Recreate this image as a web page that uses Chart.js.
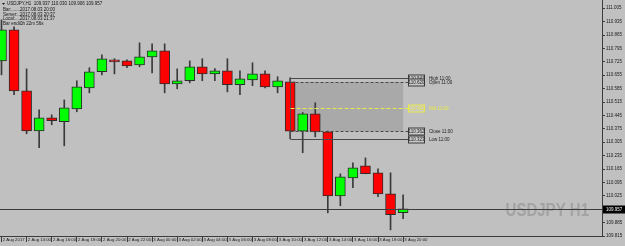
<!DOCTYPE html>
<html lang="en">
	<head>
		<meta charset="UTF-8" />
		<title>USDJPY H1</title>
		<script src="https://cdn.jsdelivr.net/npm/chart.js@4.4.0/dist/chart.umd.min.js"></script>
		<style>
			html,
			body {
				margin: 0;
				padding: 0;
				background: #c0c0c0;
			}
			canvas {
				display: block;
			}
		</style>
	</head>
	<body>
		<canvas id="chart" width="625" height="246"></canvas>

		<script>
			// hourly bars, 2 Aug 12:00 .. 3 Aug 20:00
			const open = [
				110.73, 110.892, 110.573, 110.364, 110.432, 110.412, 110.479, 110.589, 110.673, 110.735, 110.73,
				110.709, 110.751, 110.782, 110.61, 110.626, 110.699, 110.662, 110.678, 110.605, 110.631, 110.662,
				110.594, 110.62, 110.362, 110.453, 110.359, 110.025, 110.119, 110.182, 110.145, 110.035, 109.937,
			];
			const high = [
				110.944, 110.908, 110.688, 110.474, 110.448, 110.526, 110.626, 110.694, 110.762, 110.741, 110.735,
				110.824, 110.819, 110.819, 110.688, 110.73, 110.741, 110.69, 110.741, 110.678, 110.72, 110.678,
				110.647, 110.641, 110.46, 110.511, 110.364, 110.14, 110.197, 110.223, 110.166, 110.145, 110.03,
			];
			const low = [
				110.657, 110.553, 110.349, 110.276, 110.396, 110.286, 110.464, 110.563, 110.657, 110.662, 110.694,
				110.699, 110.667, 110.563, 110.584, 110.615, 110.626, 110.626, 110.568, 110.553, 110.6, 110.589,
				110.563, 110.323, 110.25, 110.333, 109.936, 109.973, 110.067, 110.14, 110.02, 109.847, 109.906,
			];
			const close = [
				110.892, 110.573, 110.364, 110.432, 110.417, 110.485, 110.594, 110.673, 110.741, 110.725, 110.704,
				110.751, 110.782, 110.61, 110.626, 110.699, 110.662, 110.678, 110.605, 110.636, 110.662, 110.594,
				110.626, 110.362, 110.453, 110.359, 110.025, 110.124, 110.171, 110.14, 110.035, 109.926, 109.957,
			];
			// one label every 2 bars
			const xLabels = [
				"2 Aug 2017", "2 Aug 14:00", "2 Aug 16:00", "2 Aug 18:00", "2 Aug 20:00", "2 Aug 22:00",
				"3 Aug 00:00", "3 Aug 02:00", "3 Aug 04:00", "3 Aug 06:00", "3 Aug 08:00", "3 Aug 10:00",
				"3 Aug 12:00", "3 Aug 14:00", "3 Aug 16:00", "3 Aug 18:00", "3 Aug 20:00",
			];
			const yTicks = [
				109.815, 109.885, 109.955, 110.025, 110.095, 110.165, 110.235, 110.305, 110.375, 110.445,
				110.515, 110.585, 110.655, 110.725, 110.795, 110.865, 110.935, 111.005,
			];
			const infoLines = [
				["Bar:.........", "2017.08.03 20:00"],
				["Server:.....", "2017.08.03 20:37"],
				["Local:.......", "2017.08.03 21:37"],
				["Bar endi...", "0h 22m 56s"],
			];
			const sessionBar = 23;
			const sessionName = "11:00";
			const lastBar = close.length - 1;

			const FONT = "'Liberation Sans', Arial, sans-serif";

			// 배경
			const chartBg = {
				id: "chartBg",
				beforeDraw(chart) {
					const c = chart.ctx;
					c.save();
					c.fillStyle = "#c0c0c0";
					c.fillRect(0, 0, chart.width, chart.height);
					c.restore();
				},
			};

			// 11:00 bar box (high/low, open/close, mid)
			const sessionBox = {
				id: "sessionBox",
				beforeDatasetsDraw(chart) {
					const { ctx: c, scales, chartArea } = chart;
					const x = scales.x,
						y = scales.y;
					const i = sessionBar;
					const x0 = x.getPixelForValue(i);
					const x1 = x.getPixelForValue(lastBar);
					c.save();
					// watermark
					c.fillStyle = "#a3a3a3";
					c.font = "bold 19px " + FONT;
					c.textAlign = "right";
					c.textBaseline = "alphabetic";
					c.translate(chartArea.right - 13, 216);
					c.scale(0.79, 1);
					c.fillText("USDJPY H1", 0, 0);
					c.restore();

					c.save();
					const yo = y.getPixelForValue(open[i]);
					const yc = y.getPixelForValue(close[i]);
					c.fillStyle = "#a9a9a9";
					c.fillRect(x0, yo, x1 - x0, yc - yo);
					c.restore();
				},
				afterDatasetsDraw(chart) {
					const { ctx: c, scales } = chart;
					const x = scales.x,
						y = scales.y;
					const i = sessionBar;
					const x0 = Math.round(x.getPixelForValue(i)) + 0.5;
					const lx = Math.round(x.getPixelForValue(lastBar)) + 5;
					const mid = (high[i] + low[i]) / 2;
					const py = (v) => Math.round(y.getPixelForValue(v)) + 0.5;

					c.save();
					c.lineWidth = 1;
					c.strokeStyle = "#4a4a4a";
					c.beginPath();
					c.moveTo(lx, py(high[i]));
					c.lineTo(x0, py(high[i]));
					c.lineTo(x0, py(low[i]));
					c.lineTo(lx, py(low[i]));
					c.stroke();

					c.setLineDash([3, 2]);
					[open[i], close[i]].forEach((v) => {
						c.beginPath();
						c.moveTo(x0, py(v));
						c.lineTo(lx, py(v));
						c.stroke();
					});
					c.strokeStyle = "#e8e84a";
					c.setLineDash([4, 2]);
					c.beginPath();
					c.moveTo(x0, py(mid));
					c.lineTo(lx, py(mid));
					c.stroke();
					c.setLineDash([]);

					const tags = [
						[high[i], "High", "#3a3a3a"],
						[open[i], "Open", "#3a3a3a"],
						[mid, "Mid", "#e8e84a"],
						[close[i], "Close", "#3a3a3a"],
						[low[i], "Low", "#3a3a3a"],
					];
					c.font = "4.5px " + FONT;
					c.textBaseline = "middle";
					tags.forEach(([v, name, col]) => {
						const ty = py(v);
						c.fillStyle = "#c8c8c8";
						c.fillRect(lx, ty - 3.5, 16, 7);
						c.strokeStyle = col;
						c.strokeRect(lx + 0.5, ty - 3.5, 16, 7);
						c.fillStyle = col === "#3a3a3a" ? "#202020" : col;
						c.textAlign = "center";
						c.fillText(v.toFixed(3), lx + 8.5, ty);
						c.textAlign = "left";
						c.fillText(name + " " + sessionName, lx + 21, ty);
					});
					c.restore();
				},
				afterDraw(chart) {
					const { ctx: c, scales, chartArea } = chart;
					const y = scales.y;
					const bid = close[lastBar];
					const by = Math.round(y.getPixelForValue(bid)) + 0.5;
					c.save();
					// bid line
					c.strokeStyle = "#3c3c3c";
					c.lineWidth = 1;
					c.beginPath();
					c.moveTo(chartArea.left, by);
					c.lineTo(chartArea.right, by);
					c.stroke();
					// price tag
					c.fillStyle = "#000";
					c.fillRect(chartArea.right + 1, by - 4, 22, 8);
					c.fillStyle = "#fff";
					c.font = "4.5px " + FONT;
					c.textAlign = "left";
					c.textBaseline = "middle";
					c.fillText(bid.toFixed(3), chartArea.right + 4, by);

					// header
					c.fillStyle = "#151515";
					c.beginPath();
					c.moveTo(2, 3);
					c.lineTo(5, 3);
					c.lineTo(3.5, 5);
					c.closePath();
					c.fill();
					const head =
						"USDJPY,H1  " + [open, high, low, close].map((a) => a[lastBar].toFixed(3)).join(" ");
					c.fillText(head, 7, 4);
					infoLines.forEach(([k, v], n) => {
						const ly = 9.5 + n * 4.8;
						c.fillText(k, 3, ly);
						c.fillText(v, 20, ly);
					});
					c.restore();
				},
			};

			const ctx = document.getElementById("chart").getContext("2d");
			const myChart = new Chart(ctx, {
				type: "bar",
				data: {
					datasets: [
						{
							// bodies
							data: open.map((o, i) => ({ x: i, y: [o, close[i]] })),
							backgroundColor: open.map((o, i) => (close[i] >= o ? "#00ff00" : "#ff0000")),
							borderColor: "#2c2c2c",
							borderWidth: 1,
							borderSkipped: false,
							barThickness: 10,
							grouped: false,
						},
						{
							// wicks
							data: low.map((l, i) => ({ x: i, y: [l, high[i]] })),
							backgroundColor: "#3a3a3a",
							borderWidth: 0,
							barThickness: 1,
							grouped: false,
						},
					],
				},
				options: {
					responsive: false,
					animation: false,
					layout: { padding: 0 },
					plugins: {
						legend: { display: false },
						tooltip: { enabled: false },
					},
					scales: {
						x: {
							type: "linear",
							position: "bottom",
							offset: false,
							min: -1.5 / 12.55,
							max: (602 - 1.5) / 12.55,
							border: { display: true, color: "#3c3c3c" },
							grid: { drawOnChartArea: false, offset: false, tickLength: 6, tickColor: "#3c3c3c" },
							afterBuildTicks(scale) {
								scale.ticks = xLabels.map((_, k) => ({ value: k * 2 }));
							},
							afterFit(scale) {
								scale.height = 10;
								scale.paddingLeft = 0;
								scale.paddingRight = 0;
							},
							ticks: {
								autoSkip: false,
								maxRotation: 0,
								align: "start",
								padding: -5,
								color: "#1a1a1a",
								font: { family: FONT, size: 4.3 },
								callback: (v, idx) => " " + xLabels[idx],
							},
						},
						y: {
							position: "right",
							min: 109.815,
							max: 109.815 + 236 * 0.005224,
							border: { display: true, color: "#3c3c3c" },
							grid: { drawOnChartArea: false, tickLength: 3, tickColor: "#3c3c3c" },
							afterBuildTicks(scale) {
								scale.ticks = yTicks.map((v) => ({ value: v }));
							},
							afterFit(scale) {
								scale.width = 23;
								scale.paddingTop = 0;
								scale.paddingBottom = 0;
							},
							ticks: {
								autoSkip: false,
								padding: 1,
								color: "#1a1a1a",
								font: { family: FONT, size: 4.5 },
								callback: (v) => v.toFixed(3),
							},
						},
					},
				},
				plugins: [chartBg, sessionBox],
			});
		</script>
	</body>
</html>
